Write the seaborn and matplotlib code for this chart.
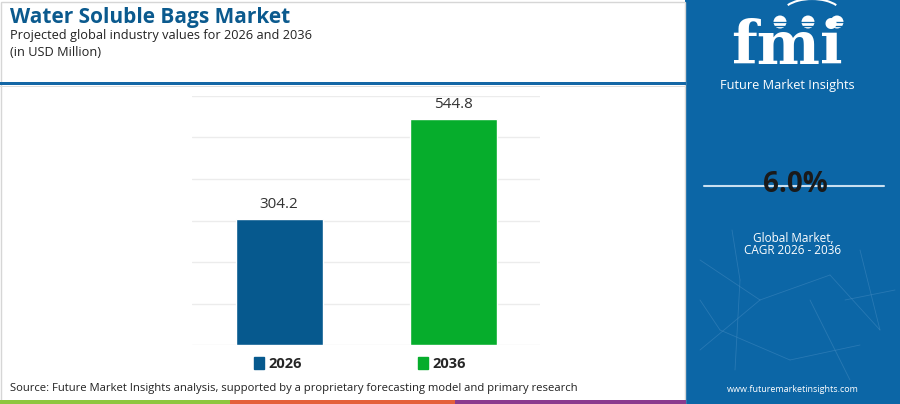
import matplotlib
matplotlib.use('Agg')
import matplotlib.pyplot as plt
from matplotlib.patches import Patch, Rectangle, Circle, Arc
import pandas as pd
import seaborn as sns

years = ["2026", "2036"]
values = [304.2, 544.8]
bar_colors = ["#06598E", "#06AD2C"]
cagr_text = "6.0%"

TITLE = "Water Soluble Bags Market"
SUBTITLE = "Projected global industry values for 2026 and 2036"
UNIT = "(in USD Million)"
SOURCE = ("Source: Future Market Insights analysis, supported by a proprietary "
          "forecasting model and primary research")

df = pd.DataFrame({"year": years, "value": values})

sns.set_style("white")
plt.rcParams['font.family'] = ['Open Sans', 'DejaVu Sans']

fig = plt.figure(figsize=(9, 4.04), dpi=100)
W, H = 900, 404

# main bar axes
ax = fig.add_axes([192 / W, 1 - 345 / H, 348 / W, 249 / H])
sns.barplot(data=df, x="year", y="value", hue="year", palette=bar_colors,
            width=0.5, legend=False, ax=ax, saturation=1)
ax.set_ylim(0, 600)
ax.set_xlim(-0.5, 1.5)
ax.set_yticks(range(0, 601, 100))
ax.yaxis.grid(True, color="#ececec", linewidth=1)
ax.set_axisbelow(True)
ax.tick_params(left=False, bottom=False, labelleft=False, labelbottom=False)
ax.set_xlabel("")
ax.set_ylabel("")
for s in ax.spines.values():
    s.set_visible(False)
for container in ax.containers:
    ax.bar_label(container, fmt="%.1f", padding=5, fontsize=11, color="#333333")

# legend
handles = [Patch(facecolor=c, edgecolor=c) for c in bar_colors]
leg = fig.legend(handles, years, loc="center", bbox_to_anchor=(360 / W, 1 - 364 / H),
                 ncol=2, frameon=False, handlelength=0.65, handleheight=0.9,
                 handletextpad=0.3, columnspacing=8.0,
                 prop={"weight": "bold", "size": 10.5})

# titles
fig.text(10 / W, 1 - 18 / H, TITLE, fontsize=15, fontweight="bold",
         color="#0B5A8E", va="center", ha="left")
fig.text(10 / W, 1 - 36 / H, SUBTITLE, fontsize=9.2, color="#222222",
         va="center", ha="left")
fig.text(10 / W, 1 - 53 / H, UNIT, fontsize=9.2, color="#222222",
         va="center", ha="left")
fig.text(10 / W, 1 - 388 / H, SOURCE, fontsize=8.1, color="#222222",
         va="center", ha="left")

# decorative frame and lines
fig.add_artist(Rectangle((1 / W, 0), 684 / W, 1 - 2 / H, transform=fig.transFigure,
                         fill=False, edgecolor="#d6d6d6", linewidth=1))
fig.add_artist(Rectangle((0, 1 - 84.5 / H), 686 / W, 3 / H, transform=fig.transFigure,
                         facecolor="#1467A6", edgecolor="none"))
fig.add_artist(Rectangle((0, 1 - 87 / H), 686 / W, 1 / H, transform=fig.transFigure,
                         facecolor="#dddddd", edgecolor="none"))
strip = [("#8DC63F", 0, 230), ("#E4603A", 230, 455), ("#8A3B8E", 455, 686)]
for c, x0, x1 in strip:
    fig.add_artist(Rectangle((x0 / W, 0), (x1 - x0) / W, 4 / H,
                             transform=fig.transFigure, facecolor=c, edgecolor="none"))

# right panel
panel_color = "#0C66A6"
pax = fig.add_axes([685 / W, 0, 215 / W, 1])
pax.set_facecolor(panel_color)
pax.set_xlim(685, 900)
pax.set_ylim(404, 0)
pax.set_xticks([])
pax.set_yticks([])
for s in pax.spines.values():
    s.set_visible(False)

# faint network lines
net = [(700, 260, 760, 300), (760, 300, 830, 275), (830, 275, 880, 330),
       (720, 330, 790, 360), (790, 360, 860, 345), (740, 280, 735, 370),
       (810, 300, 850, 380), (700, 350, 760, 300), (860, 250, 880, 330),
       (732, 230, 740, 280), (845, 300, 895, 290), (700, 300, 720, 330)]
for x0, y0, x1, y1 in net:
    pax.plot([x0, x1], [y0, y1], color="#4a8fc4", linewidth=0.6, alpha=0.45)

# logo
pax.text(787, 64, "fmi", fontsize=43, fontweight="bold", family="DejaVu Serif",
         color="white", ha="center", va="baseline")
for yy in range(22, 66, 4):
    pax.plot([715, 860], [yy, yy], color=panel_color, linewidth=0.9)
for cx in (780, 808, 837):
    pax.add_patch(Circle((cx, 22), 6.5, facecolor="white", edgecolor="none"))
pax.add_patch(Arc((812, 14), 60, 30, theta1=200, theta2=340, color="white", linewidth=1.5))
pax.text(787, 86, "Future Market Insights", fontsize=9.2, color="white",
         ha="center", va="center")

pax.plot([704, 884], [186, 186], color="#c9dff0", linewidth=1.5)
pax.text(795, 184, cagr_text, fontsize=20, fontweight="bold", color="#1a1a1a",
         ha="center", va="center")
pax.text(793, 238, "Global Market,", fontsize=8.5, color="white", ha="center", va="center")
pax.text(793, 251, "CAGR 2026 - 2036", fontsize=8.5, color="white", ha="center", va="center")
pax.text(793, 389, "www.futuremarketinsights.com", fontsize=6.5, color="white",
         ha="center", va="center")

fig.savefig("out.png", dpi=100)
